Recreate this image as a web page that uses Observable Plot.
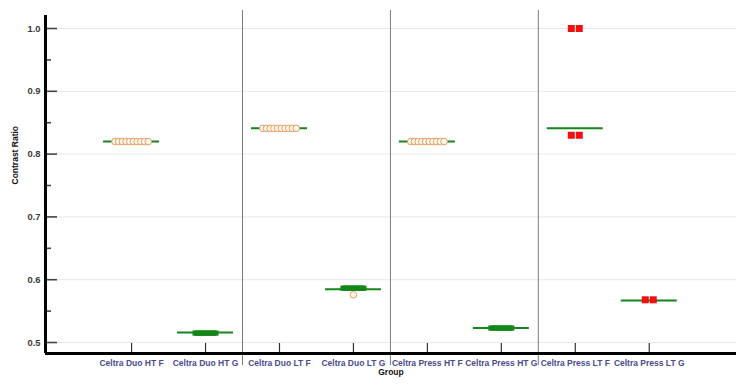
<!DOCTYPE html>
<html><head><meta charset="utf-8">
<script src="https://cdn.jsdelivr.net/npm/d3@7"></script>
<script src="https://cdn.jsdelivr.net/npm/@observablehq/plot@0.6"></script>
<style>
body{margin:0;background:#fff;}
#chart svg{display:block;}
</style></head><body><div id="chart"></div>
<script>
const categories = ["Celtra Duo HT F", "Celtra Duo HT G", "Celtra Duo LT F", "Celtra Duo LT G",
  "Celtra Press HT F", "Celtra Press HT G", "Celtra Press LT F", "Celtra Press LT G"];
const families = ["Duo HT", "Duo HT", "Duo LT", "Duo LT", "Press HT", "Press HT", "Press LT", "Press LT"];
const centerLine = [0.82, 0.516, 0.841, 0.585, 0.82, 0.523, 0.841, 0.567];
const openCircleValues = [
  [0.82, 0.82, 0.82, 0.82, 0.82, 0.82, 0.82, 0.82, 0.82, 0.82],
  [],
  [0.841, 0.841, 0.841, 0.841, 0.841, 0.841, 0.841, 0.841, 0.841, 0.841],
  [0.576],
  [0.82, 0.82, 0.82, 0.82, 0.82, 0.82, 0.82, 0.82, 0.82, 0.82],
  [], [], []
];
const greenSquareValues = [
  [],
  [0.515, 0.515, 0.515, 0.515, 0.515, 0.515, 0.515, 0.515, 0.515, 0.515],
  [],
  [0.5865, 0.5865, 0.5865, 0.5865, 0.5865, 0.5865, 0.5865, 0.5865, 0.5865, 0.5865],
  [],
  [0.523, 0.523, 0.523, 0.523, 0.523, 0.523, 0.523, 0.523, 0.523, 0.523],
  [], []
];
const redSquareValues = [[], [], [], [], [], [], [1.0, 1.0, 0.83, 0.83], [0.568, 0.568]];
const majorY = [0.5, 0.6, 0.7, 0.8, 0.9, 1.0];
const minorY = [0.55, 0.65, 0.75, 0.85, 0.95];

const W = 745, H = 389, mL = 45, mR = 9, mT = 15, mB = 36;
const xDomain = [-1.164, 8.18];
const yDomain = [0.4825, 1.0207];
const unitPx = (W - mL - mR) / (xDomain[1] - xDomain[0]);
const px = p => p / unitPx;

function cluster(valuesByGroup, stepPx) {
  const rows = [];
  valuesByGroup.forEach((vals, g) => {
    for (const [v, arr] of d3.group(vals, d => d)) {
      arr.forEach((_, j) => rows.push({x: g + (j - (arr.length - 1) / 2) * px(stepPx), y: v}));
    }
  });
  return rows;
}
const openRows = cluster(openCircleValues, 3.7);
const greenRows = cluster(greenSquareValues, 2.3);
const redRows = cluster(redSquareValues, 8);
const lineRows = centerLine.map((v, i) => ({x1: i - px(28), x2: i + px(28), y: v}));
const separators = d3.range(1, families.length).filter(i => families[i] !== families[i - 1]).map(i => i - 0.5);

const green = "#14861a", orange = "#e39d62", red = "#f01010";
const font = "Liberation Sans, Arial, sans-serif";

const chart = Plot.plot({
  width: W, height: H,
  marginLeft: mL, marginRight: mR, marginTop: mT, marginBottom: mB,
  x: {domain: xDomain, label: null},
  y: {domain: yDomain, label: null},
  style: {fontFamily: font, background: "white", overflow: "visible"},
  marks: [
    Plot.ruleY(majorY, {stroke: "#e8e8e8", strokeWidth: 1}),
    Plot.ruleX(separators, {stroke: "#7a7a7a", strokeWidth: 1, insetTop: -5, insetBottom: -12}),
    Plot.ruleY(lineRows, {x1: "x1", x2: "x2", y: "y", stroke: green, strokeWidth: 2}),
    Plot.dot(openRows, {x: "x", y: "y", r: 3.3, stroke: orange, fill: "#fff6ec", strokeWidth: 1}),
    Plot.dot(greenRows, {x: "x", y: "y", symbol: "square", r: 3.0, fill: green}),
    Plot.dot(redRows, {x: "x", y: "y", symbol: "square", r: 3.95, fill: red}),
    Plot.axisY(minorY, {anchor: "left", tickSize: -6, stroke: "#444", strokeWidth: 1.6, fill: "none", label: null}),
    Plot.axisY(majorY, {anchor: "left", tickSize: -12, tickPadding: 17, tickFormat: d3.format(".1f"),
      stroke: "#444", strokeWidth: 1.6, fill: "#3a3a3a", fontWeight: "bold", fontSize: 9.4, label: null}),
    Plot.axisX(d3.range(categories.length), {anchor: "bottom", tickSize: -10, tickPadding: 16,
      tickFormat: i => categories[i], stroke: "#333", strokeWidth: 1.2, fill: "#4a4a90",
      fontWeight: "bold", fontSize: 8.5, label: null}),
    Plot.ruleX([xDomain[0]], {stroke: "black", strokeWidth: 3}),
    Plot.ruleY([yDomain[0]], {stroke: "black", strokeWidth: 3}),
    Plot.text(["Group"], {text: d => d, frameAnchor: "bottom", dy: 21, fontWeight: "bold", fontSize: 8.5, fill: "#111"}),
    Plot.text(["Contrast Ratio"], {text: d => d, frameAnchor: "left", dx: -30, rotate: -90, fontWeight: "bold", fontSize: 8.5, fill: "#111"})
  ]
});
document.getElementById("chart").append(chart);
</script>
</body></html>
